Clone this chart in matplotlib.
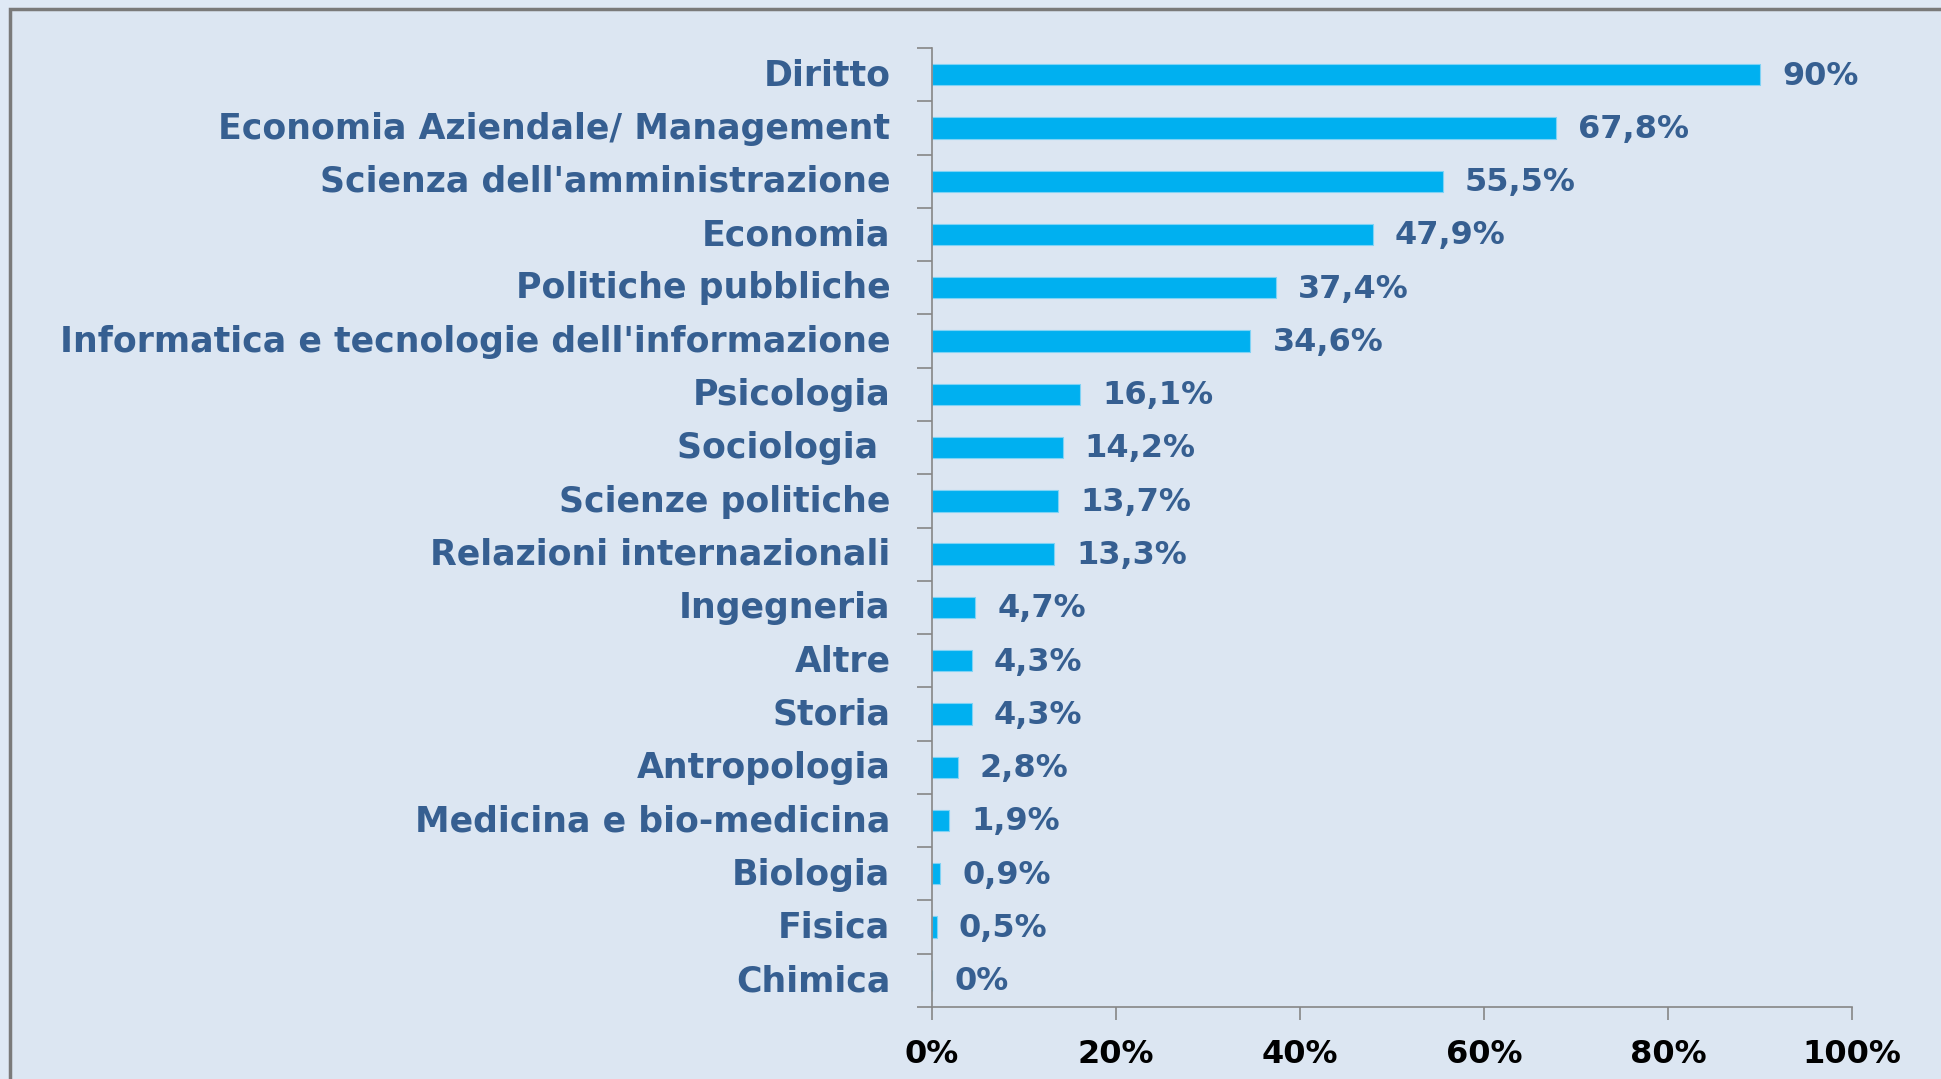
import numpy as np
import matplotlib
matplotlib.use("Agg")
import matplotlib.pyplot as plt
import matplotlib.transforms as mtransforms
from matplotlib.patches import Rectangle

# Data
categories = ["Diritto", "Economia Aziendale/ Management", "Scienza dell'amministrazione",
              "Economia", "Politiche pubbliche", "Informatica e tecnologie dell'informazione",
              "Psicologia", "Sociologia ", "Scienze politiche", "Relazioni internazionali",
              "Ingegneria", "Altre", "Storia", "Antropologia", "Medicina e bio-medicina",
              "Biologia", "Fisica", "Chimica"]
values = [90, 67.8, 55.5, 47.9, 37.4, 34.6, 16.1, 14.2, 13.7, 13.3,
          4.7, 4.3, 4.3, 2.8, 1.9, 0.9, 0.5, 0]
xticks = [0, 20, 40, 60, 80, 100]

bar_col = '#00B0F0'
txt_col = '#365F91'
bg = '#DCE6F2'
axis_col = '#868686'

W, H = 1941, 1079
fig = plt.figure(figsize=(W / 100, H / 100), dpi=100)
fig.patch.set_facecolor('#DFE9F5')

# outer frame (left and top edges visible, rest cropped)
frame = Rectangle((10 / W, -0.1), 1.1, (H - 9) / H + 0.1, transform=fig.transFigure,
                  facecolor=bg, edgecolor='#7A7A7A', linewidth=2.5, zorder=0)
fig.add_artist(frame)

ax = fig.add_axes([932 / W, 1 - 1007 / H, (1852 - 932) / W, (1007 - 48) / H])
ax.set_facecolor('none')

y = np.arange(len(categories))
ax.barh(y, values, height=0.4, color=bar_col, edgecolor='#7FD3F5', linewidth=0.8)

def fmt(v):
    if float(v).is_integer():
        return "%d%%" % v
    return ("%.1f%%" % v).replace('.', ',')

for yi, v in zip(y, values):
    ax.annotate(fmt(v), (v, yi), xytext=(16, -1), textcoords='offset points',
                ha='left', va='center', fontsize=23, fontweight='bold', color=txt_col)

ax.set_xlim(0, 100)
ax.set_ylim(len(categories) - 0.5, -0.5)

ax.set_yticks(y)
ax.set_yticklabels(categories, fontsize=25, fontweight='bold', color=txt_col)
ax.set_yticks(np.arange(len(categories) + 1) - 0.5, minor=True)
ax.tick_params(axis='y', which='major', length=0, pad=30)
ax.tick_params(axis='y', which='minor', length=11, width=1.2, color=axis_col, direction='out')
shift = mtransforms.ScaledTranslation(0, 2 / 72, fig.dpi_scale_trans)
for lab in ax.get_yticklabels():
    lab.set_transform(lab.get_transform() + shift)

ax.set_xticks(xticks)
ax.set_xticklabels(["%d%%" % t for t in xticks], fontsize=23, fontweight='bold', color='black')
ax.tick_params(axis='x', length=9, width=1.2, color=axis_col, direction='out', pad=14)

for s in ['top', 'right']:
    ax.spines[s].set_visible(False)
for s in ['left', 'bottom']:
    ax.spines[s].set_color(axis_col)
    ax.spines[s].set_linewidth(1.2)

fig.savefig('out.png', dpi=100, facecolor=fig.get_facecolor())
